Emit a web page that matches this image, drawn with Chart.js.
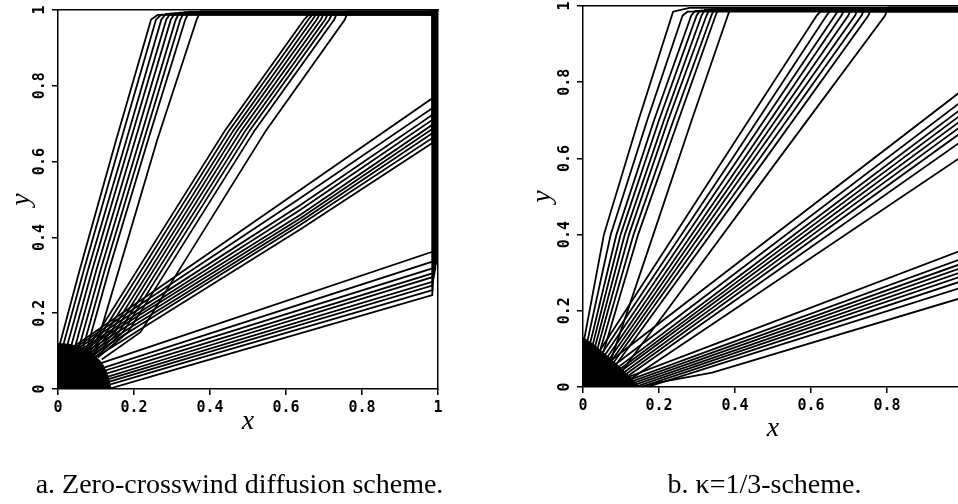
<!DOCTYPE html>
<html>
<head>
<meta charset="utf-8">
<title>Contour plots</title>
<script src="https://cdn.jsdelivr.net/npm/chart.js@4.4.0/dist/chart.umd.min.js"></script>
<style>
  html, body { margin: 0; padding: 0; background: #fff; width: 958px; height: 504px; overflow: hidden; }
  #wrap { position: relative; width: 958px; height: 504px; overflow: hidden; }
  canvas { position: absolute; top: 0; }
  #chartA { left: 0; }
  #chartB { left: 525px; }
</style>
</head>
<body>
<div id="wrap">
  <canvas id="chartA" width="479" height="504"></canvas>
  <canvas id="chartB" width="479" height="504"></canvas>
</div>
<script>
/* tick values and labels, shared by both panels */
const tickValues = [0, 0.2, 0.4, 0.6, 0.8, 1];
const tickLabels = ['0', '0.2', '0.4', '0.6', '0.8', '1'];

const captionA = 'a. Zero-crosswind diffusion scheme.';
const captionB = 'b. \u03BA=1/3-scheme.';

/* dense knot of contours at the origin (outline) */
const zcKnot = [[0, 0], [0, 0.12], [0.03, 0.118], [0.06, 0.11], [0.09, 0.095], [0.115, 0.07], [0.13, 0.04], [0.14, 0], [0, 0]];
const kKnot = [[0, 0], [0, 0.13], [0.03, 0.11], [0.065, 0.08], [0.10, 0.05], [0.13, 0.02], [0.15, 0], [0, 0]];

/* panel a: contour lines as [x, y] points */
const zcBundle1 = [
  [[0, 0.10], [0.057, 0.314], [0.153, 0.657], [0.245, 0.975], [0.262, 0.987], [1, 0.987]],
  [[0.004, 0.08], [0.068, 0.314], [0.166, 0.657], [0.258, 0.975], [0.272, 0.988], [1, 0.988]],
  [[0.012, 0.07], [0.079, 0.314], [0.180, 0.657], [0.272, 0.975], [0.284, 0.990], [1, 0.990]],
  [[0.020, 0.06], [0.090, 0.314], [0.191, 0.657], [0.285, 0.975], [0.296, 0.991], [1, 0.991]],
  [[0.028, 0.05], [0.101, 0.314], [0.203, 0.657], [0.297, 0.975], [0.308, 0.992], [1, 0.992]],
  [[0.036, 0.04], [0.112, 0.314], [0.215, 0.657], [0.310, 0.975], [0.320, 0.993], [1, 0.993]],
  [[0.044, 0.03], [0.123, 0.314], [0.226, 0.657], [0.322, 0.975], [0.332, 0.994], [1, 0.994]],
  [[0.052, 0.02], [0.134, 0.314], [0.237, 0.657], [0.335, 0.975], [0.345, 0.995], [1, 0.995]],
  [[0.070, 0.01], [0.160, 0.314], [0.261, 0.657], [0.365, 0.975], [0.375, 0.996], [1, 0.996]],
];
const zcBundle2 = [
  [[0.070, 0.100], [0.106, 0.15], [0.225, 0.34], [0.440, 0.683], [0.648, 0.975], [0.660, 0.988], [1, 0.988]],
  [[0.075, 0.098], [0.117, 0.15], [0.236, 0.34], [0.451, 0.683], [0.659, 0.975], [0.670, 0.989], [1, 0.989]],
  [[0.080, 0.095], [0.128, 0.15], [0.247, 0.34], [0.462, 0.683], [0.670, 0.975], [0.680, 0.990], [1, 0.990]],
  [[0.085, 0.093], [0.139, 0.15], [0.258, 0.34], [0.472, 0.683], [0.681, 0.975], [0.690, 0.991], [1, 0.991]],
  [[0.090, 0.090], [0.149, 0.15], [0.268, 0.34], [0.483, 0.683], [0.692, 0.975], [0.700, 0.992], [1, 0.992]],
  [[0.095, 0.088], [0.160, 0.15], [0.279, 0.34], [0.494, 0.683], [0.703, 0.975], [0.712, 0.993], [1, 0.993]],
  [[0.100, 0.085], [0.171, 0.15], [0.290, 0.34], [0.505, 0.683], [0.714, 0.975], [0.723, 0.994], [1, 0.994]],
  [[0.105, 0.083], [0.184, 0.15], [0.303, 0.34], [0.518, 0.683], [0.727, 0.975], [0.736, 0.995], [1, 0.995]],
  [[0.115, 0.078], [0.217, 0.15], [0.335, 0.34], [0.548, 0.683], [0.755, 0.975], [0.763, 0.996], [1, 0.996]],
];
const zcBundle3 = [
  [[0.03, 0.104], [0.32, 0.305], [0.637, 0.525], [0.985, 0.767], [0.999, 0.785], [0.999, 1]],
  [[0.03, 0.099], [0.32, 0.292], [0.637, 0.503], [0.985, 0.741], [0.997, 0.760], [0.997, 1]],
  [[0.03, 0.093], [0.32, 0.280], [0.637, 0.485], [0.985, 0.723], [0.995, 0.740], [0.995, 1]],
  [[0.03, 0.085], [0.32, 0.270], [0.637, 0.472], [0.985, 0.710], [0.993, 0.725], [0.993, 1]],
  [[0.03, 0.080], [0.32, 0.261], [0.637, 0.459], [0.985, 0.697], [0.991, 0.710], [0.991, 1]],
  [[0.03, 0.071], [0.32, 0.252], [0.637, 0.450], [0.985, 0.686], [0.989, 0.700], [0.989, 1]],
  [[0.03, 0.062], [0.32, 0.243], [0.637, 0.441], [0.985, 0.675], [0.987, 0.690], [0.987, 1]],
  [[0.03, 0.052], [0.32, 0.234], [0.637, 0.433], [0.985, 0.662], [0.986, 0.680], [0.986, 1]],
  [[0.03, 0.040], [0.32, 0.222], [0.637, 0.421], [0.985, 0.649], [0.985, 0.665], [0.985, 1]],
];
const zcBundle4 = [
  [[0.08, 0.057], [0.321, 0.138], [0.985, 0.362], [0.999, 0.375], [0.999, 1]],
  [[0.08, 0.043], [0.321, 0.121], [0.985, 0.336], [0.997, 0.350], [0.997, 1]],
  [[0.08, 0.035], [0.321, 0.110], [0.985, 0.318], [0.995, 0.330], [0.995, 1]],
  [[0.08, 0.026], [0.321, 0.100], [0.985, 0.305], [0.993, 0.315], [0.993, 1]],
  [[0.10, 0.023], [0.321, 0.091], [0.985, 0.295], [0.991, 0.305], [0.991, 1]],
  [[0.10, 0.016], [0.321, 0.083], [0.985, 0.283], [0.989, 0.295], [0.989, 1]],
  [[0.10, 0.009], [0.321, 0.075], [0.985, 0.273], [0.987, 0.285], [0.987, 1]],
  [[0.10, 0.001], [0.321, 0.066], [0.985, 0.261], [0.986, 0.275], [0.986, 1]],
  [[0.132, 0], [0.321, 0.055], [0.985, 0.248], [0.985, 0.260], [0.985, 1]],
];

/* panel b: kappa = 1/3 scheme */
const kBundle1 = [
  [[0, 0.11], [0.006, 0.14], [0.055, 0.40], [0.146, 0.70], [0.237, 0.985], [0.280, 0.995], [1, 0.995]],
  [[0.007, 0.10], [0.016, 0.14], [0.073, 0.40], [0.169, 0.70], [0.262, 0.975], [0.275, 0.985], [1, 0.985]],
  [[0.015, 0.10], [0.025, 0.14], [0.088, 0.40], [0.187, 0.70], [0.285, 0.975], [0.295, 0.987], [1, 0.987]],
  [[0.023, 0.10], [0.033, 0.14], [0.099, 0.40], [0.200, 0.70], [0.299, 0.975], [0.308, 0.988], [1, 0.988]],
  [[0.030, 0.10], [0.041, 0.14], [0.110, 0.40], [0.213, 0.70], [0.312, 0.975], [0.320, 0.990], [1, 0.990]],
  [[0.038, 0.10], [0.049, 0.14], [0.121, 0.40], [0.224, 0.70], [0.325, 0.975], [0.333, 0.991], [1, 0.991]],
  [[0.046, 0.10], [0.058, 0.14], [0.133, 0.40], [0.238, 0.70], [0.338, 0.975], [0.345, 0.992], [1, 0.992]],
  [[0.050, 0.08], [0.068, 0.14], [0.145, 0.40], [0.251, 0.70], [0.349, 0.975], [0.356, 0.993], [1, 0.993]],
  [[0.070, 0.06], [0.185, 0.40], [0.286, 0.70], [0.381, 0.975], [0.388, 0.994], [1, 0.994]],
];
const kBundle2 = [
  [[0.002, 0.03], [0.112, 0.20], [0.371, 0.60], [0.615, 0.975], [0.625, 0.985], [1, 0.985]],
  [[0.011, 0.03], [0.125, 0.20], [0.393, 0.60], [0.641, 0.975], [0.650, 0.987], [1, 0.987]],
  [[0.021, 0.03], [0.137, 0.20], [0.409, 0.60], [0.663, 0.975], [0.672, 0.989], [1, 0.989]],
  [[0.031, 0.03], [0.148, 0.20], [0.424, 0.60], [0.680, 0.975], [0.688, 0.990], [1, 0.990]],
  [[0.039, 0.03], [0.158, 0.20], [0.437, 0.60], [0.698, 0.975], [0.706, 0.992], [1, 0.992]],
  [[0.048, 0.03], [0.168, 0.20], [0.450, 0.60], [0.716, 0.975], [0.724, 0.993], [1, 0.993]],
  [[0.056, 0.03], [0.178, 0.20], [0.465, 0.60], [0.733, 0.975], [0.741, 0.994], [1, 0.994]],
  [[0.066, 0.03], [0.190, 0.20], [0.481, 0.60], [0.751, 0.975], [0.759, 0.995], [1, 0.995]],
  [[0.094, 0.03], [0.220, 0.20], [0.516, 0.60], [0.795, 0.975], [0.803, 0.996], [1, 0.996]],
];
const kBundle3 = [
  [[0.05, 0.052], [0.40, 0.320], [1, 0.780]],
  [[0.05, 0.033], [0.40, 0.298], [1, 0.752]],
  [[0.05, 0.020], [0.40, 0.283], [1, 0.733]],
  [[0.05, 0.012], [0.40, 0.272], [1, 0.718]],
  [[0.05, 0.005], [0.40, 0.262], [1, 0.703]],
  [[0.055, 0], [0.40, 0.251], [1, 0.688]],
  [[0.066, 0], [0.40, 0.240], [1, 0.671]],
  [[0.077, 0], [0.40, 0.227], [1, 0.648]],
  [[0.094, 0], [0.40, 0.205], [1, 0.607]],
];
const kBundle4 = [
  [[0.050, 0], [0.34, 0.110], [1, 0.360]],
  [[0.071, 0], [0.34, 0.098], [1, 0.338]],
  [[0.087, 0], [0.34, 0.090], [1, 0.325]],
  [[0.103, 0], [0.34, 0.083], [1, 0.314]],
  [[0.119, 0], [0.34, 0.076], [1, 0.303]],
  [[0.136, 0], [0.34, 0.069], [1, 0.292]],
  [[0.152, 0], [0.34, 0.062], [1, 0.279]],
  [[0.169, 0], [0.34, 0.054], [1, 0.262]],
  [[0.150, 0], [0.20, 0.012], [0.34, 0.038], [1, 0.235]],
];

const TICK_FONT = "'DejaVu Sans Mono', monospace";
const SERIF = "'Liberation Serif', 'Times New Roman', serif";

function frameAxis(position, size) {
  return {
    type: 'linear', position, min: 0, max: 1,
    ticks: { display: false },
    grid: { display: false },
    border: { display: true, color: '#000', width: 1.5 },
    afterFit: s => { if (position === 'top') s.height = size; else s.width = size; },
  };
}

function makePanel(id, knot, bundles, caption, box) {
  const datasets = [{
    data: knot.map(([x, y]) => ({ x, y })),
    borderColor: '#000', backgroundColor: '#000', borderWidth: 1, pointRadius: 0, fill: 'shape', tension: 0,
  }];
  bundles.forEach(b => b.forEach(line => datasets.push({
    data: line.map(([x, y]) => ({ x, y })),
    borderColor: '#000', borderWidth: 1.8, pointRadius: 0, fill: false, tension: 0,
  })));

  return new Chart(document.getElementById(id), {
    type: 'line',
    data: { datasets },
    options: {
      responsive: false, animation: false, devicePixelRatio: 1,
      layout: { padding: 0 },
      plugins: {
        legend: { display: false },
        tooltip: { enabled: false },
        title: {
          display: true, position: 'bottom', text: caption, color: '#000',
          font: { family: SERIF, size: 28, weight: 'normal', lineHeight: 1.2 },
          padding: { top: box.capTop, bottom: 2 },
        },
      },
      scales: {
        x: {
          type: 'linear', position: 'bottom', min: 0, max: 1,
          afterBuildTicks: s => { s.ticks = tickValues.map(v => ({ value: v })); },
          afterFit: s => { s.height = box.xAxisH; },
          ticks: {
            callback: (v, i) => tickLabels[i], color: '#000', padding: 4,
            maxRotation: 0, autoSkip: false,
            font: { family: TICK_FONT, size: 15, weight: 'bold', lineHeight: 1.2 },
          },
          grid: { display: true, drawOnChartArea: false, drawTicks: true, tickLength: 6, color: '#000', lineWidth: 1.5 },
          border: { display: true, color: '#000', width: 1.5 },
          title: {
            display: true, text: 'x', color: '#000',
            font: { family: SERIF, size: 28, style: 'italic', lineHeight: 1 },
            padding: { top: 0, bottom: box.xTitlePad },
          },
        },
        y: {
          type: 'linear', position: 'left', min: 0, max: 1,
          afterBuildTicks: s => { s.ticks = tickValues.map(v => ({ value: v })); },
          afterFit: s => { s.width = 58; },
          ticks: {
            callback: (v, i) => tickLabels[i], color: '#000', padding: -2,
            minRotation: 90, maxRotation: 90, crossAlign: 'center', autoSkip: false,
            font: { family: TICK_FONT, size: 15, weight: 'bold', lineHeight: 0.8 },
          },
          grid: { display: true, drawOnChartArea: false, drawTicks: true, tickLength: 6, color: '#000', lineWidth: 1.5 },
          border: { display: true, color: '#000', width: 1.5 },
          title: {
            display: true, text: 'y', color: '#000',
            font: { family: SERIF, size: 28, style: 'italic', lineHeight: 1 },
            padding: { top: box.yTitlePad, bottom: 0 },
          },
        },
        x2: frameAxis('top', box.top),
        y2: frameAxis('right', 41),
      },
    },
  });
}

makePanel('chartA', zcKnot, [zcBundle1, zcBundle2, zcBundle3, zcBundle4], captionA,
  { top: 10, xAxisH: 45, xTitlePad: -2, yTitlePad: 8, capTop: 34.4 });
makePanel('chartB', kKnot, [kBundle1, kBundle2, kBundle3, kBundle4], captionB,
  { top: 6, xAxisH: 50, xTitlePad: -6, yTitlePad: 4, capTop: 31.4 });
</script>
</body>
</html>
